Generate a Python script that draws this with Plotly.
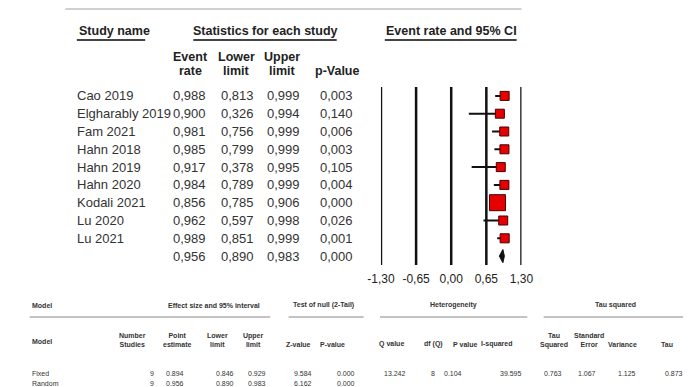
import math
import plotly.graph_objects as go

W, H = 691, 387

# ---------------- data ----------------
studies = ["Cao 2019", "Elgharably 2019", "Fam 2021", "Hahn 2018", "Hahn 2019",
           "Hahn 2020", "Kodali 2021", "Lu 2020", "Lu 2021"]
event_rate = [0.988, 0.900, 0.981, 0.985, 0.917, 0.984, 0.856, 0.962, 0.989]
lower_limit = [0.813, 0.326, 0.756, 0.799, 0.378, 0.789, 0.785, 0.597, 0.851]
upper_limit = [0.999, 0.994, 0.999, 0.999, 0.995, 0.999, 0.906, 0.998, 0.999]
p_value = [0.003, 0.140, 0.006, 0.003, 0.105, 0.004, 0.000, 0.026, 0.001]

summary_rate, summary_lower, summary_upper, summary_p = 0.956, 0.890, 0.983, 0.000

axis_ticks = [-1.30, -0.65, 0.00, 0.65, 1.30]
axis_tick_labels = ["-1,30", "-0,65", "0,00", "0,65", "1,30"]

model_names = ["Fixed", "Random"]
model_n = [9, 9]
model_point = [0.894, 0.956]
model_lower = [0.846, 0.890]
model_upper = [0.929, 0.983]
model_z = [9.584, 6.162]
model_p = [0.000, 0.000]
het_q, het_df, het_p, het_i2 = 13.242, 8, 0.104, 39.595
tau_sq, tau_se, tau_var, tau_val = 0.763, 1.067, 1.125, 0.873

# ---------------- helpers ----------------
def px(x):
    return x / W


def py(y):
    return 1 - y / H


def fmt_c(v):
    return f"{v:.3f}".replace(".", ",")


def logit(p):
    p = min(max(p, 1e-6), 1 - 1e-6)
    return math.log(p / (1 - p))


weights = [1 / ((logit(u) - logit(l)) / 3.92) ** 2 for l, u in zip(lower_limit, upper_limit)]
wmin, wmax = min(weights), max(weights)
sizes = [9 + 7 * (w - wmin) / (wmax - wmin) for w in weights]

n = len(studies)
rows = list(range(n))
sum_row = n

fig = go.Figure()

# study markers with CI
fig.add_trace(go.Scatter(
    x=event_rate, y=rows, mode="markers",
    marker=dict(symbol="square", size=sizes, color="#e60000", opacity=1,
                line=dict(color="#4a0000", width=1)),
    error_x=dict(type="data", symmetric=False,
                 array=[u - e for u, e in zip(upper_limit, event_rate)],
                 arrayminus=[e - l for e, l in zip(event_rate, lower_limit)],
                 width=0, thickness=2, color="#111"),
    showlegend=False, hoverinfo="skip", cliponaxis=False,
))

# summary diamond
dh = 0.37
fig.add_trace(go.Scatter(
    x=[summary_lower, summary_rate, summary_upper, summary_rate, summary_lower],
    y=[sum_row, sum_row - dh, sum_row, sum_row + dh, sum_row],
    mode="lines", fill="toself", fillcolor="#111",
    line=dict(color="#111", width=1), showlegend=False, hoverinfo="skip",
))

shapes = []
# vertical reference lines of forest plot
for t in axis_ticks:
    shapes.append(dict(type="line", xref="x", yref="y", x0=t, x1=t, layer="below",
                       y0=-0.5, y1=n + 0.5, line=dict(color="#111", width=2.5)))

# top light grey rule
shapes.append(dict(type="line", xref="paper", yref="paper", x0=px(45), x1=px(519),
                   y0=py(1), y1=py(1), line=dict(color="#d0d0d0", width=2)))
# header underlines
for x0, x1 in [(57, 128), (178, 327), (377, 514)]:
    shapes.append(dict(type="line", xref="paper", yref="paper", x0=px(x0), x1=px(x1),
                       y0=py(32), y1=py(32), line=dict(color="#444", width=2)))
# bottom table rules
for x0, x1 in [(8, 258), (277, 355), (372, 525), (542, 700)]:
    shapes.append(dict(type="line", xref="paper", yref="paper", x0=px(x0), x1=px(x1),
                       y0=py(309), y1=py(309), line=dict(color="#888", width=1.2)))

ann = []
FONT = "Liberation Sans, Arial, sans-serif"


def add(text, x, y, size=12, color="#222", xanchor="center", yref="paper", bold=False):
    if bold:
        text = f"<b>{text}</b>"
    ann.append(dict(text=text, x=px(x), y=(py(y) if yref == "paper" else y),
                    xref="paper", yref=yref, showarrow=False, xanchor=xanchor,
                    yanchor="middle", font=dict(family=FONT, size=size, color=color)))


# top headers
add("Study name", 57, 23, 12.5, "#222", "left", bold=True)
add("Statistics for each study", 253, 23, 12.5, "#222", bold=True)
add("Event rate and 95% CI", 446, 23, 12.5, "#222", bold=True)
add("Event", 175, 49, 12.5, bold=True)
add("rate", 175, 63, 12.5, bold=True)
add("Lower", 223, 49, 12.5, bold=True)
add("limit", 223, 63, 12.5, bold=True)
add("Upper", 270, 49, 12.5, bold=True)
add("limit", 271, 63, 12.5, bold=True)
add("p-Value", 328, 63, 12.5, bold=True)

# study rows
cols_right = [193, 243, 291, 346]
for i in rows:
    add(studies[i], 55, i, 13, "#333", "left", yref="y")
    for xr, v in zip(cols_right, [event_rate[i], lower_limit[i], upper_limit[i], p_value[i]]):
        add(fmt_c(v), xr, i, 13, "#333", "right", yref="y")
for xr, v in zip(cols_right, [summary_rate, summary_lower, summary_upper, summary_p]):
    add(fmt_c(v), xr, sum_row, 13, "#333", "right", yref="y")

# bottom table
S = 7
C = "#333"
add("Model", 8, 297, S, C, "left", bold=True)
add("Effect size and 95% interval", 200, 297, S, C, bold=True)
add("Test of null (2-Tail)", 313, 297, S, C, bold=True)
add("Heterogeneity", 448, 297, S, C, bold=True)
add("Tau squared", 617, 297, S, C, bold=True)

add("Model", 8, 333, S, C, "left", bold=True)
for text, x in [("Number<br>Studies", 115), ("Point<br>estimate", 162), ("Lower<br>limit", 203),
                ("Upper<br>limit", 241), ("Tau<br>Squared", 553), ("Standard<br>Error", 589)]:
    add(text, x, 332, S, C, bold=True)
for text, x in [("Z-value", 287), ("P-value", 323), ("Q value", 384), ("df (Q)", 428),
                ("P value", 460), ("I-squared", 494), ("Variance", 624), ("Tau", 670)]:
    add(text, x, 336, S, C, bold=True)

for r, yy in enumerate([365, 375]):
    add(model_names[r], 8, yy, S, C, "left")
    add(str(model_n[r]), 139, yy, S, C, "right")
    add(f"{model_point[r]:.3f}", 170, yy, S, C, "right")
    add(f"{model_lower[r]:.3f}", 222, yy, S, C, "right")
    add(f"{model_upper[r]:.3f}", 256, yy, S, C, "right")
    add(f"{model_z[r]:.3f}", 303, yy, S, C, "right")
    add(f"{model_p[r]:.3f}", 348, yy, S, C, "right")
add(f"{het_q:.3f}", 401, 365, S, C, "right")
add(str(het_df), 431, 365, S, C, "right")
add(f"{het_p:.3f}", 459, 365, S, C, "right")
add(f"{het_i2:.3f}", 522, 365, S, C, "right")
add(f"{tau_sq:.3f}", 563, 365, S, C, "right")
add(f"{tau_se:.3f}", 599, 365, S, C, "right")
add(f"{tau_var:.3f}", 640, 365, S, C, "right")
add(f"{tau_val:.3f}", 689, 365, S, C, "right")

fig.update_layout(
    width=W, height=H, margin=dict(l=0, r=0, t=0, b=0),
    paper_bgcolor="white", plot_bgcolor="white",
    xaxis=dict(domain=[px(373), px(519)], range=[-1.3, 1.3], showgrid=False,
               zeroline=False, showline=False, tickvals=axis_ticks,
               ticktext=axis_tick_labels, ticks="", ticklabelstandoff=5,
               tickfont=dict(family=FONT, size=12, color="#222")),
    yaxis=dict(domain=[py(257), py(79)], range=[n + 0.5, -0.5], visible=False),
    shapes=shapes, annotations=ann, showlegend=False,
)

fig.write_html("out.html")
